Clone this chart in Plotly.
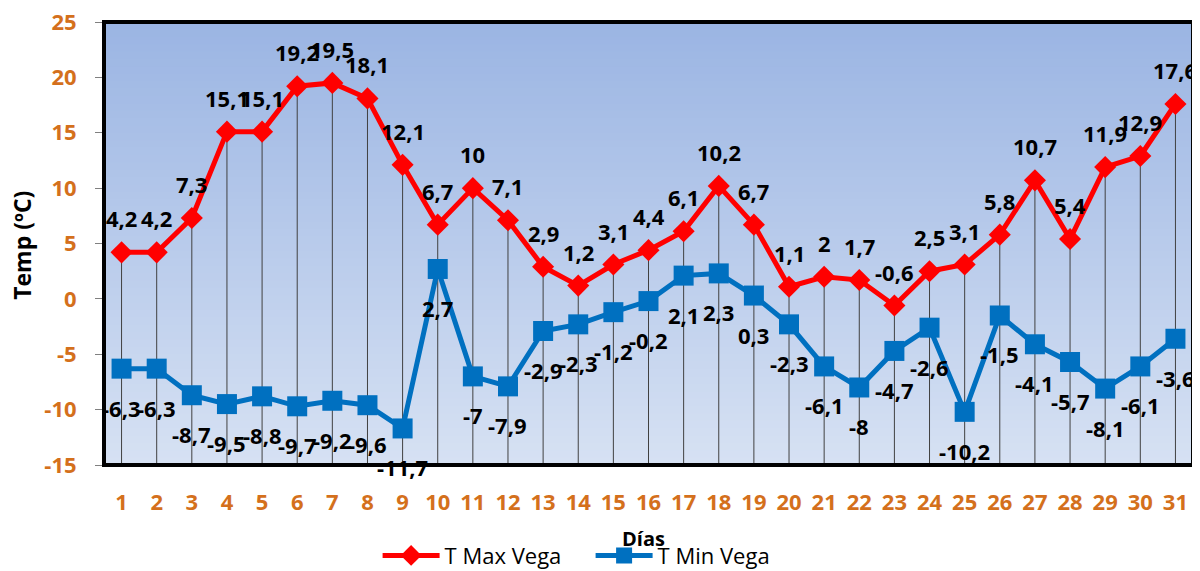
import plotly.graph_objects as go

days = list(range(1, 32))
tmax = [4.2, 4.2, 7.3, 15.1, 15.1, 19.2, 19.5, 18.1, 12.1, 6.7, 10, 7.1, 2.9, 1.2, 3.1, 4.4,
        6.1, 10.2, 6.7, 1.1, 2, 1.7, -0.6, 2.5, 3.1, 5.8, 10.7, 5.4, 11.9, 12.9, 17.6]
tmin = [-6.3, -6.3, -8.7, -9.5, -8.8, -9.7, -9.2, -9.6, -11.7, 2.7, -7, -7.9, -2.9, -2.3, -1.2, -0.2,
        2.1, 2.3, 0.3, -2.3, -6.1, -8, -4.7, -2.6, -10.2, -1.5, -4.1, -5.7, -8.1, -6.1, -3.6]
y_ticks = [-15, -10, -5, 0, 5, 10, 15, 20, 25]
y_ticktext = [str(v) for v in y_ticks]
x_ticktext = [str(d) for d in days]

ORANGE = "#D4701C"
FONT = "Open Sans"


def fmt(v):
    return f"{v:g}".replace(".", ",")


fig = go.Figure()

# drop lines from the highest point to the axis floor
dx, dy = [], []
for d, a, b in zip(days, tmax, tmin):
    dx += [d, d, None]
    dy += [y_ticks[0], max(a, b), None]
fig.add_trace(go.Scatter(x=dx, y=dy, mode="lines", line=dict(color="#404040", width=1),
                         showlegend=False, hoverinfo="skip"))

fig.add_trace(go.Scatter(x=days, y=tmax, mode="lines+markers", name="T Max Vega",
                         line=dict(color="#FF0000", width=5),
                         marker=dict(symbol="diamond", size=17, color="#FF0000")))
fig.add_trace(go.Scatter(x=days, y=tmin, mode="lines+markers", name="T Min Vega",
                         line=dict(color="#0070C0", width=5),
                         marker=dict(symbol="square", size=20, color="#0070C0")))

LBL = dict(family=FONT, size=22, color="black", weight="bold")
annotations = []
for d, v in zip(days, tmax):
    annotations.append(dict(x=d, y=v, text=fmt(v), showarrow=False, yshift=34, font=LBL))
for d, v in zip(days, tmin):
    annotations.append(dict(x=d, y=v, text=fmt(v), showarrow=False, yshift=-39, font=LBL))

annotations.append(dict(xref="paper", yref="paper", x=0.4955, y=-0.167, text="Días",
                        xanchor="center", yanchor="middle", showarrow=False,
                        font=dict(family=FONT, size=20, color="black", weight="bold")))
annotations.append(dict(xref="paper", yref="paper", x=-0.0753, y=0.497, text="Temp (ºC)",
                        xanchor="center", yanchor="middle", textangle=-90, showarrow=False,
                        font=dict(family=FONT, size=23, color="black", weight="bold")))

# background gradient
shapes = []
n = 60
top = (155, 181, 227)
bot = (214, 225, 243)
for i in range(n):
    t = i / (n - 1)
    c = tuple(round(bot[k] + (top[k] - bot[k]) * t) for k in range(3))
    shapes.append(dict(type="rect", xref="paper", yref="paper", x0=0, x1=1,
                       y0=i / n, y1=(i + 1) / n + 0.002, fillcolor=f"rgb{c}",
                       line=dict(width=0), layer="below"))
shapes.append(dict(type="rect", xref="paper", yref="paper", x0=0, x1=1, y0=0, y1=1,
                   line=dict(color="black", width=4), layer="above"))

# the page body adds an 8px offset; margins compensate for it
fig.update_layout(
    width=1200, height=571,
    margin=dict(l=96, r=15, t=14, b=114, autoexpand=False),
    paper_bgcolor="white", plot_bgcolor="rgb(214,225,243)",
    font=dict(family=FONT),
    showlegend=True,
    legend=dict(orientation="h", xref="container", yref="container",
                x=0.308, xanchor="left", y=0.041, yanchor="middle",
                font=dict(family=FONT, size=22, color="black"), itemwidth=57,
                entrywidth=141, entrywidthmode="pixels",
                bgcolor="rgba(0,0,0,0)"),
    annotations=annotations,
    shapes=shapes,
    xaxis=dict(range=[0.5, 31.5], tickvals=days, ticktext=x_ticktext, showgrid=False,
               zeroline=False, ticks="", showline=False, automargin=False,
               ticklabelstandoff=22,
               tickfont=dict(family=FONT, size=22, color=ORANGE, weight="bold")),
    yaxis=dict(range=[-15, 25], tickvals=y_ticks, ticktext=y_ticktext, showgrid=False,
               zeroline=False, ticks="outside", ticklen=8, tickcolor="#808080",
               showline=False, automargin=False, ticklabeloverflow="allow",
               ticklabelstandoff=14,
               tickfont=dict(family=FONT, size=22, color=ORANGE, weight="bold")),
)

fig.write_html("out.html")
